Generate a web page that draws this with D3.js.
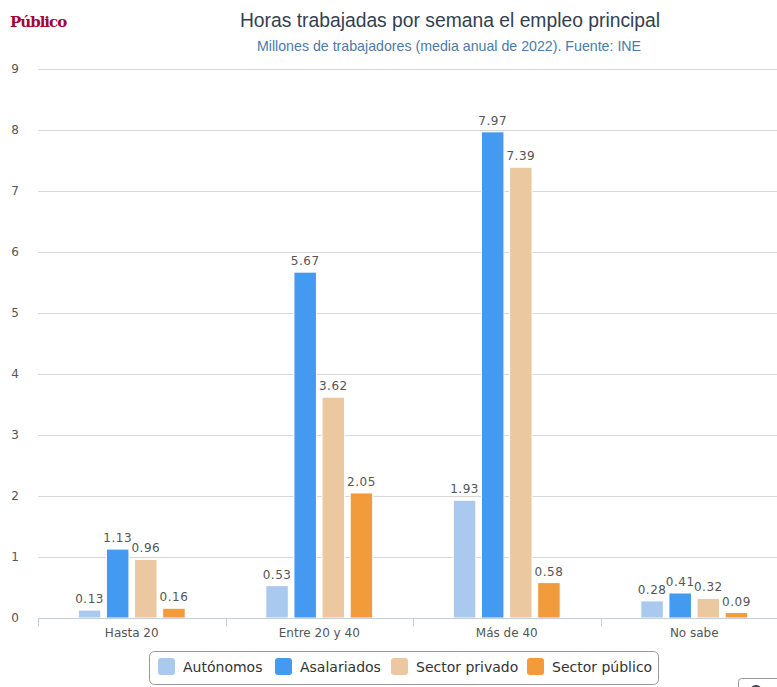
<!DOCTYPE html>
<html lang="es">
<head>
<meta charset="UTF-8">
<title>Horas trabajadas por semana el empleo principal</title>
<script src="https://d3js.org/d3.v7.min.js"></script>
<style>
    body { margin: 0; background: #fff; }
    svg { display: block; }
</style>
</head>
<body>
<div id="chart"></div>
<script>
    const width = 777;
    const height = 687;

    // data
    const categories = ["Hasta 20", "Entre 20 y 40", "Más de 40", "No sabe"];
    const seriesNames = ["Autónomos", "Asalariados", "Sector privado", "Sector público"];
    const autonomos = [0.13, 0.53, 1.93, 0.28];
    const asalariados = [1.13, 5.67, 7.97, 0.41];
    const privado = [0.96, 3.62, 7.39, 0.32];
    const publico = [0.16, 2.05, 0.58, 0.09];
    const yTicks = [0, 1, 2, 3, 4, 5, 6, 7, 8, 9];

    const colors = ["#a9c9ef", "#4499f1", "#ebc8a0", "#f19b3a"];
    const series = [autonomos, asalariados, privado, publico];

    const margin = {top: 69, left: 38, bottom: 69};
    const plotRight = 788; // plot runs past the visible edge

    const svg = d3.select("#chart").append("svg")
        .attr("width", width)
        .attr("height", height);

    const y = d3.scaleLinear().domain([0, 9]).range([height - margin.bottom, margin.top]);
    const x = d3.scaleBand().domain(categories).range([margin.left, plotRight]);

    // groupPadding 0.2, pointPadding 0.1 like the original
    const groupPad = 0.2 * x.bandwidth();
    const slot = (x.bandwidth() - 2 * groupPad) / series.length;
    const barW = slot * 0.8;

    // logo
    svg.append("text")
        .attr("x", 10).attr("y", 27)
        .style("font-family", "'DejaVu Serif', 'Liberation Serif', serif")
        .style("font-weight", "bold")
        .style("font-size", "15px")
        .style("letter-spacing", "-1px")
        .style("fill", "#a1063a")
        .text("Público");

    // title + subtitle
    svg.append("text")
        .attr("x", 450).attr("y", 27)
        .attr("text-anchor", "middle")
        .style("font-family", "'Liberation Sans', Arial, sans-serif")
        .style("font-size", "19.3px")
        .style("fill", "#333f50")
        .text("Horas trabajadas por semana el empleo principal");

    svg.append("text")
        .attr("x", 449).attr("y", 51)
        .attr("text-anchor", "middle")
        .style("font-family", "'Liberation Sans', Arial, sans-serif")
        .style("font-size", "14.2px")
        .style("fill", "#4d7aa8")
        .text("Millones de trabajadores (media anual de 2022). Fuente: INE");

    // gridlines
    svg.append("g").selectAll("line")
        .data(yTicks.filter(d => d > 0))
        .enter().append("line")
        .attr("x1", margin.left).attr("x2", width)
        .attr("y1", d => Math.round(y(d)) + 0.5)
        .attr("y2", d => Math.round(y(d)) + 0.5)
        .style("stroke", "#d8d8d8");

    // y labels
    svg.append("g").selectAll("text")
        .data(yTicks)
        .enter().append("text")
        .attr("x", 15).attr("y", d => y(d) + 4)
        .attr("text-anchor", "middle")
        .style("font-family", "'DejaVu Sans', Verdana, sans-serif")
        .style("font-size", "12px")
        .style("fill", "#555")
        .text(d => d);

    // bars
    const groups = svg.append("g").selectAll("g")
        .data(series)
        .enter().append("g")
        .style("fill", (d, i) => colors[i]);

    groups.selectAll("rect")
        .data((d, i) => d.map((v, j) => ({v, j, i})))
        .enter().append("rect")
        .attr("x", d => x(categories[d.j]) + groupPad + d.i * slot + (slot - barW) / 2)
        .attr("y", d => y(d.v))
        .attr("width", barW)
        .attr("height", d => y(0) - y(d.v))
        .style("stroke", "#fff")
        .style("stroke-width", 1);

    groups.selectAll("text")
        .data((d, i) => d.map((v, j) => ({v, j, i})))
        .enter().append("text")
        .attr("x", d => x(categories[d.j]) + groupPad + d.i * slot + slot / 2)
        .attr("y", d => y(d.v) - 7)
        .attr("text-anchor", "middle")
        .style("font-family", "'DejaVu Sans', Verdana, sans-serif")
        .style("font-size", "12px")
        .style("letter-spacing", "0.5px")
        .style("fill", "#555")
        .text(d => d.v.toFixed(2));

    // x axis
    const axisY = Math.round(y(0)) + 0.5;
    svg.append("line")
        .attr("x1", margin.left).attr("x2", width)
        .attr("y1", axisY).attr("y2", axisY)
        .style("stroke", "#c0d0e0");

    svg.append("g").selectAll("line")
        .data(categories)
        .enter().append("line")
        .attr("x1", d => Math.round(x(d)) + 0.5)
        .attr("x2", d => Math.round(x(d)) + 0.5)
        .attr("y1", axisY).attr("y2", axisY + 8)
        .style("stroke", "#c0d0e0");

    svg.append("g").selectAll("text")
        .data(categories)
        .enter().append("text")
        .attr("x", d => x(d) + x.bandwidth() / 2)
        .attr("y", axisY + 18)
        .attr("text-anchor", "middle")
        .style("font-family", "'DejaVu Sans', Verdana, sans-serif")
        .style("font-size", "12px")
        .style("fill", "#555")
        .text(d => d);

    // legend
    const legend = svg.append("g");
    legend.append("rect")
        .attr("x", 149.5).attr("y", 651.5)
        .attr("width", 509).attr("height", 33)
        .attr("rx", 5)
        .style("fill", "#fff")
        .style("stroke", "#999");

    const legendX = [158, 275, 391, 527];
    seriesNames.forEach((name, i) => {
        legend.append("rect")
            .attr("x", legendX[i]).attr("y", 658)
            .attr("width", 17).attr("height", 17)
            .attr("rx", 3)
            .style("fill", colors[i]);
        legend.append("text")
            .attr("x", legendX[i] + 25).attr("y", 672)
            .style("font-family", "'DejaVu Sans', Verdana, sans-serif")
            .style("font-size", "14px")
            .style("fill", "#333")
            .text(name);
    });

    // export button peeking in at the bottom right (icon drawn as a path)
    svg.append("rect")
        .attr("x", 738.5).attr("y", 678.5)
        .attr("width", 50).attr("height", 24)
        .attr("rx", 3)
        .style("fill", "#fff")
        .style("stroke", "#999");
    svg.append("path")
        .attr("d", d3.arc()({innerRadius: 3, outerRadius: 6, startAngle: -2.2, endAngle: 1.6}))
        .attr("transform", "translate(756,691)")
        .style("fill", "#445");
</script>
</body>
</html>
